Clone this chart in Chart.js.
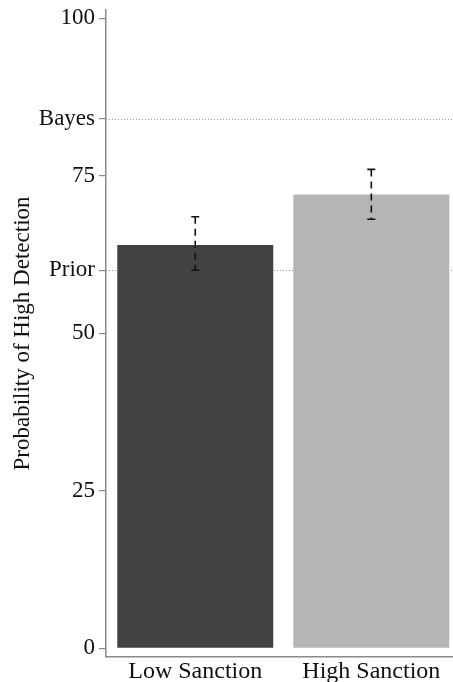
<!DOCTYPE html>
<html>
<head>
<meta charset="utf-8">
<script src="https://cdn.jsdelivr.net/npm/chart.js@4/dist/chart.umd.min.js"></script>
<style>
  html, body { margin: 0; padding: 0; background: #ffffff; }
  #wrap { width: 453px; height: 682px; position: relative; }
</style>
</head>
<body>
<div id="wrap"><canvas id="c" width="453" height="682"></canvas></div>
<script>
// ---- data ----
const categories = ['Low Sanction', 'High Sanction'];
const categoryPositions = [1, 2];
const probability = [64.0, 72.0];
const errorLow = [60.0, 68.1];
const errorHigh = [68.5, 76.0];
const barColors = ['#424242', '#b5b5b5'];
const yTickValues = [0, 25, 50, 60, 75, 84, 100];
const yTickLabels = ['0', '25', '50', 'Prior', '75', 'Bayes', '100'];
const referenceLines = [60, 84];
const yTitle = 'Probability of High Detection';

const serif = '"Liberation Serif", "Times New Roman", serif';
const axisGray = '#8a8a8a';

const refLinePlugin = {
  id: 'refLines',
  beforeDatasetsDraw(chart) {
    const { ctx, chartArea } = chart;
    const ys = chart.scales.y;
    ctx.save();
    ctx.strokeStyle = '#9a9a9a';
    ctx.lineWidth = 1;
    ctx.setLineDash([1, 2]);
    referenceLines.forEach(v => {
      const py = Math.round(ys.getPixelForValue(v)) + 0.5;
      ctx.beginPath();
      ctx.moveTo(chartArea.left, py);
      ctx.lineTo(chartArea.right, py);
      ctx.stroke();
    });
    ctx.restore();
  }
};

const errorBarPlugin = {
  id: 'errorBars',
  afterDatasetsDraw(chart) {
    const { ctx } = chart;
    const ys = chart.scales.y;
    const meta = chart.getDatasetMeta(0);
    ctx.save();
    ctx.strokeStyle = '#111111';
    ctx.lineWidth = 1.6;
    meta.data.forEach((bar, i) => {
      const x = bar.x;
      const yTop = ys.getPixelForValue(errorHigh[i]);
      const yBot = ys.getPixelForValue(errorLow[i]);
      ctx.setLineDash([7, 5]);
      ctx.beginPath();
      ctx.moveTo(x, yTop);
      ctx.lineTo(x, yBot);
      ctx.stroke();
      ctx.setLineDash([]);
      ctx.beginPath();
      ctx.moveTo(x - 4, yTop);
      ctx.lineTo(x + 4, yTop);
      ctx.moveTo(x - 4, yBot);
      ctx.lineTo(x + 4, yBot);
      ctx.stroke();
    });
    ctx.restore();
  }
};

new Chart(document.getElementById('c'), {
  type: 'bar',
  data: {
    datasets: [{
      data: categoryPositions.map((p, i) => ({ x: p, y: probability[i] })),
      backgroundColor: barColors,
      borderWidth: 0,
      barPercentage: 0.886,
      categoryPercentage: 1.0
    }]
  },
  options: {
    responsive: false,
    animation: false,
    layout: { padding: { top: 10, left: 0, right: 0, bottom: 0 } },
    plugins: { legend: { display: false }, tooltip: { enabled: false } },
    scales: {
      x: {
        type: 'linear',
        offset: false,
        bounds: 'data',
        min: 0.493,
        max: 2.464,
        grid: { display: false, drawTicks: false, offset: false },
        border: { display: true, color: axisGray, width: 1.5 },
        ticks: {
          font: { family: serif, size: 24 },
          color: '#111111',
          padding: 0,
          maxRotation: 0,
          autoSkip: false,
          callback: (v) => {
            const idx = categoryPositions.indexOf(v);
            return idx >= 0 ? categories[idx] : '';
          }
        },
        afterBuildTicks: (scale) => {
          scale.ticks = categoryPositions.map(v => ({ value: v }));
        },
        afterFit: (scale) => {
          scale.height = 25;
          scale.paddingLeft = 0;
          scale.paddingRight = 0;
        }
      },
      y: {
        min: -1.38,
        max: 101.3,
        grid: {
          display: true,
          drawOnChartArea: false,
          drawTicks: true,
          tickLength: 7,
          color: axisGray,
          lineWidth: 1.2
        },
        border: { display: true, color: axisGray, width: 1.5 },
        ticks: {
          font: { family: serif, size: 23 },
          color: '#111111',
          padding: 4,
          autoSkip: false,
          callback: (v) => {
            const idx = yTickValues.indexOf(v);
            return idx >= 0 ? yTickLabels[idx] : '';
          }
        },
        afterBuildTicks: (scale) => {
          scale.ticks = yTickValues.map(v => ({ value: v }));
        },
        title: {
          display: true,
          text: yTitle,
          font: { family: serif, size: 23 },
          color: '#111111',
          padding: { top: 9, bottom: 0 }
        },
        afterFit: (scale) => {
          scale.width = 106;
          scale.paddingTop = 0;
          scale.paddingBottom = 0;
        }
      }
    }
  },
  plugins: [refLinePlugin, errorBarPlugin]
});
</script>
</body>
</html>
